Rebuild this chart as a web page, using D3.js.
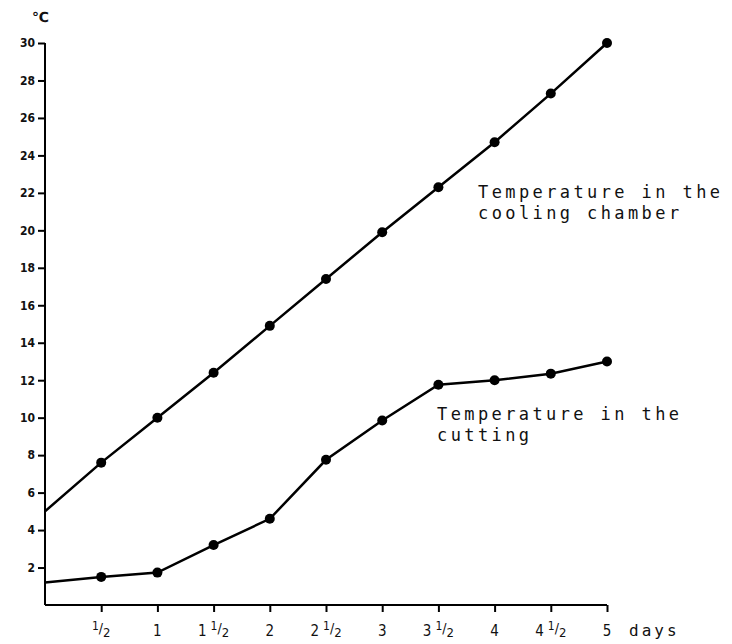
<!DOCTYPE html>
<html><head><meta charset="utf-8">
<script src="https://cdn.jsdelivr.net/npm/d3@7"></script>
<style>body{margin:0;background:#fff}</style></head>
<body><svg id="c" width="732" height="644"></svg>
<script>
const days = [0, 0.5, 1, 1.5, 2, 2.5, 3, 3.5, 4, 4.5, 5];
const chamberTemp = [5, 7.6, 10, 12.4, 14.9, 17.4, 19.9, 22.3, 24.7, 27.3, 30];
const cuttingTemp = [1.2, 1.5, 1.73, 3.2, 4.6, 7.75, 9.85, 11.76, 12.0, 12.35, 13.0];
const xTicks = [0.5, 1, 1.5, 2, 2.5, 3, 3.5, 4, 4.5, 5];
const xTickLabels = [["", "1", "2"], ["1", "", ""], ["1", "1", "2"], ["2", "", ""], ["2", "1", "2"], ["3", "", ""], ["3", "1", "2"], ["4", "", ""], ["4", "1", "2"], ["5", "", ""]];
const yTicks = [2, 4, 6, 8, 10, 12, 14, 16, 18, 20, 22, 24, 26, 28, 30];
const seriesLabels = [["Temperature in the", "cooling chamber"], ["Temperature in the", "cutting"]];

const svg = d3.select("#c");
const x = d3.scaleLinear().domain([0, 5]).range([45, 607]);
const y = d3.scaleLinear().domain([0, 30]).range([605, 43]);

// axes
const yAxis = d3.axisLeft(y).tickValues(yTicks).tickSize(7).tickPadding(3).tickFormat(d3.format("d"));
const gy = svg.append("g").attr("transform", `translate(${x(0)},0)`).call(yAxis);
gy.select(".domain").attr("d", `M0,${y(30)}V${y(0)}`).attr("stroke", "#000").attr("stroke-width", 2);
gy.selectAll(".tick line").attr("stroke-width", 2);
gy.selectAll(".tick text").attr("font-family", "DejaVu Sans Condensed, DejaVu Sans").attr("font-size", 12).attr("font-weight", "bold").attr("fill", "#111");

const xAxis = d3.axisBottom(x).tickValues(xTicks).tickSize(7).tickFormat("");
const gx = svg.append("g").attr("transform", `translate(0,${y(0)})`).call(xAxis);
gx.select(".domain").attr("d", `M${x(0)},0H${x(5)}`).attr("stroke", "#000").attr("stroke-width", 2);
gx.selectAll(".tick line").attr("stroke-width", 2);

// x tick labels as mixed fractions
xTicks.forEach((v, i) => {
  const [w, n, dn] = xTickLabels[i];
  const t = svg.append("text").attr("x", x(v)).attr("y", 636).attr("text-anchor", "middle")
    .attr("font-family", "DejaVu Sans Condensed, DejaVu Sans").attr("font-size", 15).attr("fill", "#111");
  if (w) t.append("tspan").text(w);
  if (n) {
    t.append("tspan").attr("dx", w ? 4 : 0).attr("dy", -6).attr("font-size", 12).text(n);
    t.append("tspan").attr("dy", 3).attr("font-size", 14).text("/");
    t.append("tspan").attr("dy", 4).attr("font-size", 13).text(dn);
  }
});
svg.append("text").attr("x", 629).attr("y", 636).attr("font-family", "DejaVu Sans Mono").attr("font-size", 16)
  .attr("letter-spacing", 3).attr("fill", "#111").text("days");
svg.append("text").attr("x", 32).attr("y", 22).attr("font-family", "DejaVu Sans").attr("font-size", 14)
  .attr("font-weight", "bold").attr("fill", "#111").text("℃");

// series
const line = d3.line().x((d, i) => x(days[i])).y(d => y(d));
[chamberTemp, cuttingTemp].forEach(s => {
  svg.append("path").datum(s).attr("d", line).attr("fill", "none").attr("stroke", "#000").attr("stroke-width", 2.5);
  svg.selectAll(null).data(s.slice(1)).enter().append("circle")
    .attr("cx", (d, i) => x(days[i + 1])).attr("cy", d => y(d)).attr("r", 5).attr("fill", "#000");
});

// labels
const labelPos = [[478, 198], [437, 420]];
seriesLabels.forEach((lines, k) => {
  const t = svg.append("text").attr("font-family", "DejaVu Sans Mono").attr("font-size", 17)
    .attr("letter-spacing", 3.4).attr("fill", "#111");
  lines.forEach((l, j) => t.append("tspan").attr("x", labelPos[k][0]).attr("y", labelPos[k][1] + j * 21).text(l));
});
</script></body></html>
